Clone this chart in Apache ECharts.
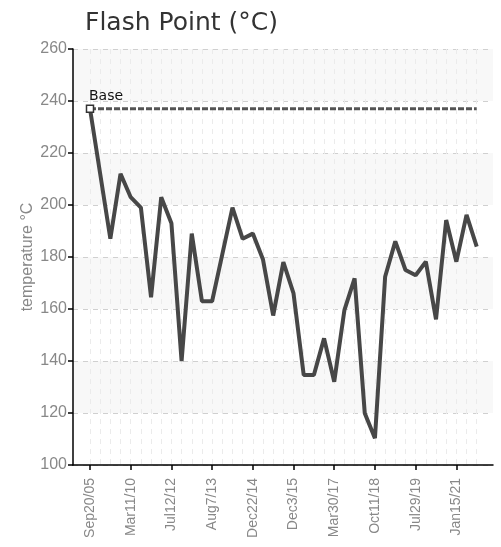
<!DOCTYPE html>
<html>
  <head>
    <meta charset="utf-8" />
    <title>Flash Point</title>
    <script src="https://cdn.jsdelivr.net/npm/echarts@6/dist/echarts.min.js"></script>
    <style type="text/css">
      html, body { margin: 0; padding: 0; background: #fff; }
    </style>
  </head>
  <body>
    <div id="main" style="width: 501px; height: 547px"></div>
    <script type="text/javascript">
      // values, one per sample
      var flashPoint = [237, 212, 187, 212, 203, 199, 164.5, 203, 193, 140,
        189, 163, 163, 181, 199, 187, 189, 179, 157.5, 178,
        166, 134.6, 134.6, 148.7, 132, 159.6, 171.8, 119.9, 110.3, 172.4,
        186, 175, 173, 178.2, 156, 194.2, 178.2, 196.2, 184];
      var baseValue = 237;
      // labelled samples (every 4th)
      var tickIndex = [0, 4, 8, 12, 16, 20, 24, 28, 32, 36];
      var tickLabels = ["Sep20/05", "Mar11/10", "Jul12/12", "Aug7/13", "Dec22/14",
        "Dec3/15", "Mar30/17", "Oct11/18", "Jul29/19", "Jan15/21"];

      var narrow = '"Liberation Sans Narrow", "Arial Narrow", "Liberation Sans", sans-serif';

      var mainData = flashPoint.map(function (v, i) { return [i, v]; });
      var baseData = flashPoint.map(function (v, i) { return [i, baseValue]; });
      var allIndex = flashPoint.map(function (v, i) { return i; });

      var myChart = echarts.init(document.getElementById("main"));

      var option = {
        animation: false,
        title: {
          text: "Flash Point (°C)",
          left: 80,
          top: 6,
          textStyle: { fontFamily: "DejaVu Sans", fontSize: 25, fontWeight: "normal", color: "#333" }
        },
        grid: { left: 73, right: 8, top: 49, bottom: 82 },
        xAxis: [
          {
            type: "value",
            min: -1.67,
            max: 39.6,
            axisLine: { onZero: false, lineStyle: { color: "#000", width: 1.5 } },
            axisTick: { customValues: tickIndex, length: 5, lineStyle: { color: "#000", width: 1.5 } },
            axisLabel: {
              customValues: tickIndex,
              rotate: 90,
              color: "#888",
              fontFamily: narrow,
              fontSize: 14,
              margin: 13,
              formatter: function (v) { return tickLabels[tickIndex.indexOf(Math.round(v))] || ""; }
            },
            splitLine: { show: true, lineStyle: { color: "#d0d0d0", type: [5, 5] } }
          },
          {
            type: "value",
            min: -1.67,
            max: 39.6,
            position: "bottom",
            axisLine: { show: false },
            axisTick: { show: false, customValues: allIndex },
            axisLabel: { show: false },
            splitLine: { show: true, lineStyle: { color: "#ebebeb", type: [5, 5] } }
          }
        ],
        yAxis: {
          type: "value",
          min: 100,
          max: 260,
          interval: 20,
          name: "temperature °C",
          nameLocation: "middle",
          nameGap: 37,
          nameMoveOverlap: false,
          nameTextStyle: { color: "#888", fontFamily: narrow, fontSize: 16 },
          axisLine: { show: true, onZero: false, lineStyle: { color: "#000", width: 1.5 } },
          axisTick: { show: true, length: 5, lineStyle: { color: "#000", width: 1.5 } },
          axisLabel: { color: "#888", fontFamily: narrow, fontSize: 16, margin: 6 },
          splitLine: { lineStyle: { color: "#d0d0d0", type: [5, 5] } },
          splitArea: { show: true, areaStyle: { color: ["#ffffff", "#f8f8f8"] } }
        },
        series: [
          {
            name: "Base",
            type: "line",
            data: baseData,
            symbol: "none",
            lineStyle: { color: "#555", width: 3, type: [6, 2] },
            markPoint: {
              symbol: "rect",
              symbolSize: 7,
              itemStyle: { color: "#fff", borderColor: "#333", borderWidth: 1.5 },
              label: {
                show: true,
                position: "top",
                formatter: "Base",
                color: "#111",
                fontFamily: "DejaVu Sans",
                fontSize: 14,
                distance: 1,
                offset: [16, 0]
              },
              data: [{ coord: [0, baseValue] }]
            }
          },
          {
            name: "Flash Point",
            type: "line",
            data: mainData,
            symbol: "none",
            lineStyle: { color: "#474747", width: 4 }
          }
        ]
      };

      myChart.setOption(option);
    </script>
  </body>
</html>
